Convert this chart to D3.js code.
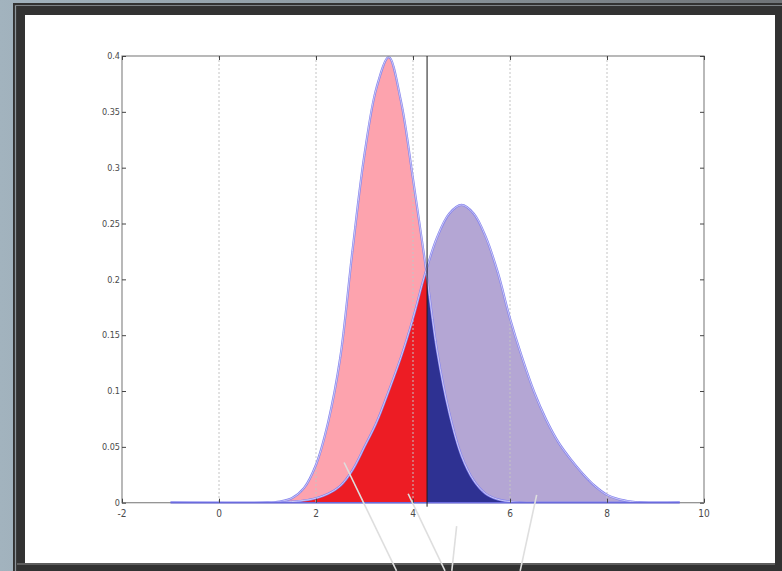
<!DOCTYPE html>
<html>
<head>
<meta charset="utf-8">
<script src="https://cdn.jsdelivr.net/npm/d3@7"></script>
<style>
	html, body { margin: 0; padding: 0; }
	body { width: 782px; height: 571px; overflow: hidden;
		background: linear-gradient(90deg, #a2b3be 0%, #8e9aa2 45%, #6f7377 100%); }
	svg { display: block; }
	.tick-label { font-family: "Liberation Sans Narrow", "DejaVu Sans Condensed", sans-serif; fill: #4a4a4a; }
</style>
</head>
<body>
<div id="chart"></div>
<script>
/** Data **/
// shared x grid for both curves
var xs = [-1, 1.0, 1.25, 1.5, 1.75, 2.0, 2.25, 2.5, 2.75, 3.0, 3.25, 3.5, 3.75, 4.0, 4.25, 4.5, 4.75,
	5.0, 5.25, 5.5, 5.75, 6.0, 6.25, 6.5, 6.75, 7.0, 7.25, 7.5, 7.75, 8.0, 8.25, 8.5, 8.75, 9.5];
// narrow curve (pink), peaks near 3.5
var redVals = [0, 0, 0.001, 0.004, 0.013, 0.034, 0.072, 0.13, 0.225, 0.312, 0.372, 0.399, 0.36, 0.29, 0.215, 0.135, 0.08,
	0.042, 0.02, 0.008, 0.003, 0.001, 0, 0, 0, 0, 0, 0, 0, 0, 0, 0, 0, 0];
// wide curve (lavender), peaks near 5
var blueVals = [0, 0, 0, 0.001, 0.002, 0.004, 0.008, 0.015, 0.029, 0.05, 0.072, 0.10, 0.13, 0.165, 0.205, 0.238, 0.259,
	0.2666, 0.259, 0.238, 0.206, 0.165, 0.13, 0.099, 0.074, 0.054, 0.039, 0.026, 0.015, 0.007, 0.003, 0.001, 0, 0];
// decision threshold (black vertical line)
var threshold = 4.29;

var xTicks = [-2, 0, 2, 4, 6, 8, 10];
var yTicks = [0, 0.05, 0.1, 0.15, 0.2, 0.25, 0.3, 0.35, 0.4];
var gridTicks = [0, 2, 4, 6, 8];

// pointer lines below the plot: [from x, from y] -> [to x, to y], in data units
var pointerFrom = [[3.66, -0.061], [4.66, -0.061], [4.80, -0.061], [6.21, -0.061]];
var pointerTo = [[2.58, 0.036], [3.90, 0.008], [4.90, -0.021], [6.55, 0.007]];

function drawChart()
{
	var W = 782, H = 571;
	var left = 122, top = 56, right = 704, bottom = 502.7;

	var svg = d3.select("#chart")
		.append("svg")
		.attr("width", W)
		.attr("height", H);

	// dark picture frame + white panel
	svg.append("rect").attr("x", 13).attr("y", 3).attr("width", W - 13).attr("height", H - 3).attr("fill", "#323232");
	svg.append("line").attr("x1", 15.5).attr("x2", 15.5).attr("y1", 5).attr("y2", H).attr("stroke", "#8d959b").attr("stroke-width", 1.2);
	svg.append("line").attr("x1", 15).attr("x2", W).attr("y1", 5.5).attr("y2", 5.5).attr("stroke", "#7d8286").attr("stroke-width", 1);
	svg.append("line").attr("x1", 17).attr("x2", 775).attr("y1", 564).attr("y2", 564).attr("stroke", "#8a8a8a").attr("stroke-width", 1);
	svg.append("rect").attr("x", 25).attr("y", 15).attr("width", 750).attr("height", 548).attr("fill", "#ffffff");

	var x = d3.scaleLinear().domain([-2, 10]).range([left, right]);
	var y = d3.scaleLinear().domain([0, 0.4]).range([bottom, top]);

	var pts = xs.map(function(v, i) { return { x: v, r: redVals[i], b: blueVals[i] }; });
	var curve = d3.curveCatmullRom.alpha(0.5);

	var areaRed = d3.area().curve(curve)
		.x(function(d) { return x(d.x); }).y0(y(0)).y1(function(d) { return y(d.r); });
	var areaBlue = d3.area().curve(curve)
		.x(function(d) { return x(d.x); }).y0(y(0)).y1(function(d) { return y(d.b); });
	var lineRed = d3.line().curve(curve)
		.x(function(d) { return x(d.x); }).y(function(d) { return y(d.r); });
	var lineBlue = d3.line().curve(curve)
		.x(function(d) { return x(d.x); }).y(function(d) { return y(d.b); });

	var defs = svg.append("defs");
	defs.append("clipPath").attr("id", "plotArea")
		.append("rect").attr("x", left).attr("y", top - 2).attr("width", right - left).attr("height", bottom - top + 2);
	defs.append("clipPath").attr("id", "leftOfThr")
		.append("rect").attr("x", left).attr("y", top).attr("width", x(threshold) - left).attr("height", bottom - top);
	defs.append("clipPath").attr("id", "rightOfThr")
		.append("rect").attr("x", x(threshold)).attr("y", top).attr("width", right - x(threshold)).attr("height", bottom - top);

	var g = svg.append("g");
	var fills = g.append("g").attr("clip-path", "url(#plotArea)");

	// full areas
	fills.append("path").datum(pts).attr("d", areaRed).attr("fill", "#fda3ae");
	fills.append("path").datum(pts).attr("d", areaBlue).attr("fill", "#b4a6d4");
	// overlap, split at the threshold
	fills.append("path").datum(pts).attr("d", areaBlue).attr("fill", "#ed1c24").attr("clip-path", "url(#leftOfThr)");
	fills.append("path").datum(pts).attr("d", areaRed).attr("fill", "#2e3192").attr("clip-path", "url(#rightOfThr)");

	// dotted vertical grid (drawn over the fills)
	g.selectAll(".grid").data(gridTicks).enter()
		.append("line")
		.attr("x1", function(d) { return x(d); }).attr("x2", function(d) { return x(d); })
		.attr("y1", top).attr("y2", bottom)
		.attr("stroke", "#c4c4c4").attr("stroke-width", 1).attr("stroke-dasharray", "2,2");

	// curve outlines: blue edge with pale core
	var outl = g.append("g").attr("clip-path", "url(#plotArea)");
	[lineRed, lineBlue].forEach(function(ln)
	{
		outl.append("path").datum(pts).attr("d", ln).attr("fill", "none")
			.attr("stroke", "#8483ee").attr("stroke-width", 2.2);
		outl.append("path").datum(pts).attr("d", ln).attr("fill", "none")
			.attr("stroke", "#dedaf8").attr("stroke-width", 0.8);
	});

	// axes box
	g.append("rect").attr("x", left).attr("y", top).attr("width", right - left).attr("height", bottom - top)
		.attr("fill", "none").attr("stroke", "#8a8a8a").attr("stroke-width", 1.2);

	// the curves' flat tails sit on the baseline as a blue line
	g.append("line")
		.attr("x1", x(d3.min(xs))).attr("x2", x(d3.max(xs)))
		.attr("y1", y(0)).attr("y2", y(0))
		.attr("stroke", "#6a6ade").attr("stroke-width", 1.6);

	// threshold line
	g.append("line")
		.attr("x1", x(threshold)).attr("x2", x(threshold))
		.attr("y1", top).attr("y2", bottom + 4)
		.attr("stroke", "#1a1a1a").attr("stroke-width", 1);

	// inward ticks on all four sides (MATLAB style)
	var tl = 4;
	var yAxisL = d3.axisRight(y).tickValues(yTicks).tickSize(tl).tickFormat("");
	var yAxisR = d3.axisLeft(y).tickValues(yTicks).tickSize(tl).tickFormat("");
	var xAxisB = d3.axisTop(x).tickValues(xTicks).tickSize(tl).tickFormat("");
	var xAxisT = d3.axisBottom(x).tickValues(xTicks).tickSize(tl).tickFormat("");
	var axes = [
		g.append("g").attr("transform", "translate(" + left + ",0)").call(yAxisL),
		g.append("g").attr("transform", "translate(" + right + ",0)").call(yAxisR),
		g.append("g").attr("transform", "translate(0," + bottom + ")").call(xAxisB),
		g.append("g").attr("transform", "translate(0," + top + ")").call(xAxisT)
	];
	axes.forEach(function(a)
	{
		a.select(".domain").remove();
		a.selectAll(".tick line").attr("stroke", "#444").attr("stroke-width", 1);
	});

	// tick labels
	g.selectAll(".ylab").data(yTicks).enter()
		.append("text").attr("class", "tick-label")
		.attr("x", left - 2).attr("y", function(d) { return y(d); })
		.attr("dy", "0.35em").attr("text-anchor", "end").attr("font-size", 9)
		.text(function(d) { return String(+d.toFixed(2)); });
	g.selectAll(".xlab").data(xTicks).enter()
		.append("text").attr("class", "tick-label")
		.attr("x", function(d) { return x(d); }).attr("y", bottom + 14)
		.attr("text-anchor", "middle").attr("font-size", 10)
		.text(function(d) { return d; });

	// pale pointer lines coming up from below the frame
	g.selectAll(".pointer").data(pointerFrom).enter()
		.append("line")
		.attr("x1", function(d) { return x(d[0]); }).attr("y1", function(d) { return y(d[1]); })
		.attr("x2", function(d, i) { return x(pointerTo[i][0]); }).attr("y2", function(d, i) { return y(pointerTo[i][1]); })
		.attr("stroke", "#dedede").attr("stroke-width", 1.6);
}

drawChart();
</script>
</body>
</html>
